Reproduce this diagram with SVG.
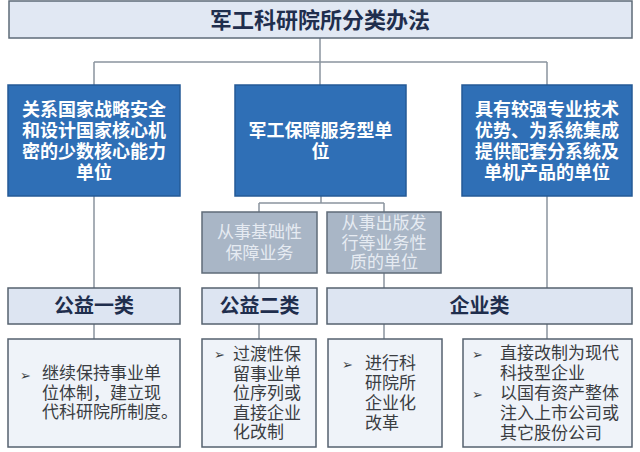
<svg xmlns="http://www.w3.org/2000/svg" width="640" height="452" viewBox="0 0 640 452">
<style>
.bg{fill:#ffffff}
.title{fill:#e1e8f3;stroke:#5e6b78;stroke-width:1.5}
.blue{fill:#2f6fb6;stroke:#245a96;stroke-width:1.5}
.gray{fill:#a9b6c6;stroke:#5f6b78;stroke-width:1.5}
.cat{fill:#dde5f2;stroke:#56626f;stroke-width:1.5}
.leaf{fill:#eff3f9;stroke:#56626f;stroke-width:1.5}
.conn{fill:none;stroke:#8a949e;stroke-width:1.5}
text{font-family:"Liberation Sans","Noto Sans CJK SC",sans-serif;dominant-baseline:central}
.tt{font-size:22px;font-weight:bold;fill:#1f2e4d;text-anchor:middle}
.bt{font-size:18px;font-weight:bold;fill:#ffffff;text-anchor:middle}
.gt{font-size:17px;fill:#e6ebf2;text-anchor:middle}
.ct{font-size:20px;font-weight:bold;fill:#1f2e4d;text-anchor:middle}
.lt{font-size:17px;fill:#3a3d42}
.bu{font-family:"DejaVu Sans",sans-serif;font-size:13px;fill:#3a3d42}
</style>
<rect class="bg" x="0" y="0" width="640" height="452"/>
<g id="connectors">
<path class="conn" d="M320,38V62M94,62H547M94,62V85M320,62V85M547,62V85"/>
<path class="conn" d="M94,196V288M94,324V339"/>
<path class="conn" d="M321,196V203M259,203H384M259,203V212M384,203V212M259,273V288M384,273V288M259,324V339M384,324V339"/>
<path class="conn" d="M547,196V288M547,324V339"/>
</g>
<g id="title">
<rect class="title" x="9" y="1" width="623" height="37"/>
<text class="tt" x="320" y="20">军工科研院所分类办法</text>
</g>
<g id="blue-left">
<rect class="blue" x="8" y="85" width="172" height="111"/>
<text class="bt"><tspan x="94" y="110">关系国家战略安全</tspan><tspan x="94" y="131">和设计国家核心机</tspan><tspan x="94" y="152">密的少数核心能力</tspan><tspan x="94" y="173">单位</tspan></text>
</g>
<g id="blue-mid">
<rect class="blue" x="235" y="85" width="171" height="111"/>
<text class="bt"><tspan x="320.5" y="131">军工保障服务型单</tspan><tspan x="320.5" y="152">位</tspan></text>
</g>
<g id="blue-right">
<rect class="blue" x="462" y="85" width="170" height="111"/>
<text class="bt"><tspan x="547" y="110">具有较强专业技术</tspan><tspan x="547" y="131">优势、为系统集成</tspan><tspan x="547" y="152">提供配套分系统及</tspan><tspan x="547" y="173">单机产品的单位</tspan></text>
</g>
<g id="gray-1">
<rect class="gray" x="202" y="212" width="115" height="61"/>
<text class="gt"><tspan x="259.5" y="232">从事基础性</tspan><tspan x="259.5" y="253">保障业务</tspan></text>
</g>
<g id="gray-2">
<rect class="gray" x="327" y="212" width="114" height="61"/>
<text class="gt"><tspan x="384" y="223">从事出版发</tspan><tspan x="384" y="242.5">行等业务性</tspan><tspan x="384" y="262">质的单位</tspan></text>
</g>
<g id="cat-1">
<rect class="cat" x="8" y="288" width="172" height="36"/>
<text class="ct" x="94" y="306">公益一类</text>
</g>
<g id="cat-2">
<rect class="cat" x="202" y="288" width="115" height="36"/>
<text class="ct" x="259.5" y="306">公益二类</text>
</g>
<g id="cat-3">
<rect class="cat" x="327" y="288" width="305" height="36"/>
<text class="ct" x="479.5" y="306">企业类</text>
</g>
<g id="leaf-1">
<rect class="leaf" x="8" y="339" width="172" height="108"/>
<text class="bu" x="20" y="375">➢</text>
<text class="lt"><tspan x="42" y="373">继续保持事业单</tspan><tspan x="42" y="392.5">位体制，建立现</tspan><tspan x="42" y="412">代科研院所制度。</tspan></text>
</g>
<g id="leaf-2">
<rect class="leaf" x="202" y="339" width="114" height="108"/>
<text class="bu" x="214" y="354">➢</text>
<text class="lt"><tspan x="233" y="354">过渡性保</tspan><tspan x="233" y="373.5">留事业单</tspan><tspan x="233" y="393">位序列或</tspan><tspan x="233" y="412.5">直接企业</tspan><tspan x="233" y="432">化改制</tspan></text>
</g>
<g id="leaf-3">
<rect class="leaf" x="328" y="339" width="114" height="108"/>
<text class="bu" x="342" y="364">➢</text>
<text class="lt"><tspan x="365" y="363">进行科</tspan><tspan x="365" y="383">研院所</tspan><tspan x="365" y="403">企业化</tspan><tspan x="365" y="422.5">改革</tspan></text>
</g>
<g id="leaf-4">
<rect class="leaf" x="463" y="339" width="169" height="108"/>
<text class="bu" x="472" y="354">➢</text>
<text class="bu" x="472" y="394">➢</text>
<text class="lt"><tspan x="500" y="353">直接改制为现代</tspan><tspan x="500" y="373">科技型企业</tspan><tspan x="500" y="393">以国有资产整体</tspan><tspan x="500" y="413">注入上市公司或</tspan><tspan x="500" y="432.5">其它股份公司</tspan></text>
</g>
</svg>
